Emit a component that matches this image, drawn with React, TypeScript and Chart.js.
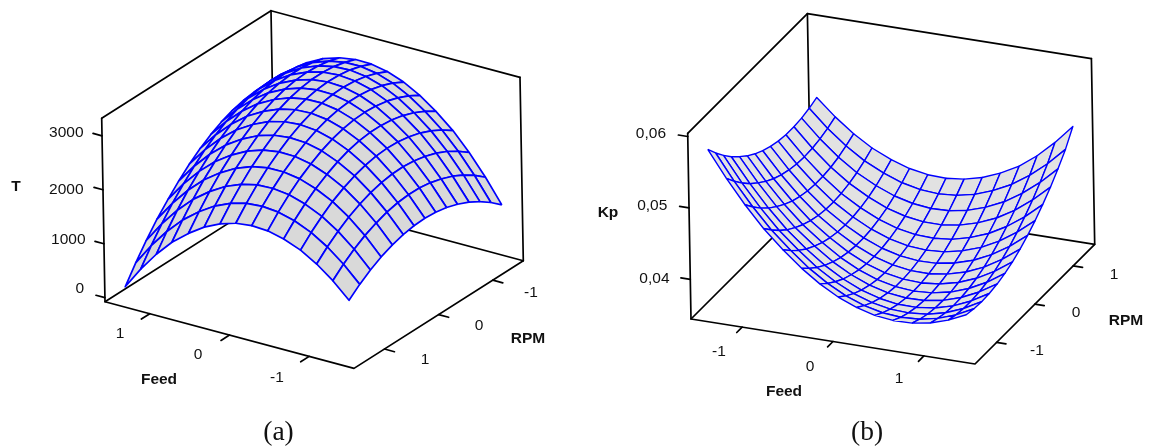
import React, { useEffect, useRef } from "react";
import Chart from "chart.js/auto";

// Feed / RPM grid (coded levels) shared by both surfaces
const gridLevels = [-1.41, -1.21, -1.01, -0.81, -0.6, -0.4, -0.2, 0, 0.2, 0.4, 0.6, 0.81, 1.01, 1.21, 1.41];
const feedTicks = [-1, 0, 1];
const rpmTicks = [-1, 0, 1];
const tempTicks = [0, 1000, 2000, 3000];
const kpTicks = [0.04, 0.05, 0.06];

// (a) T: one row per RPM level, one value per Feed level
const tempRows = [
  [1000, 1432, 1812, 2138, 2411, 2630, 2797, 2910, 2970, 2977, 2931, 2831, 2679, 2473, 2214],
  [1170, 1593, 1961, 2277, 2539, 2748, 2904, 3006, 3056, 3052, 2995, 2885, 2722, 2506, 2236],
  [1315, 1726, 2085, 2389, 2641, 2839, 2985, 3077, 3116, 3101, 3034, 2913, 2740, 2512, 2232],
  [1434, 1834, 2182, 2476, 2717, 2905, 3040, 3121, 3149, 3125, 3047, 2915, 2730, 2493, 2202],
  [1527, 1917, 2254, 2537, 2768, 2945, 3069, 3140, 3157, 3123, 3034, 2891, 2696, 2449, 2147],
  [1594, 1973, 2299, 2572, 2792, 2959, 3072, 3132, 3139, 3093, 2994, 2842, 2635, 2377, 2065],
  [1635, 2004, 2319, 2581, 2791, 2947, 3049, 3099, 3095, 3039, 2929, 2766, 2549, 2280, 1957],
  [1650, 2008, 2313, 2565, 2764, 2909, 3001, 3040, 3025, 2959, 2838, 2664, 2437, 2158, 1824],
  [1639, 1987, 2281, 2522, 2711, 2845, 2926, 2955, 2930, 2853, 2721, 2536, 2299, 2009, 1665],
  [1603, 1940, 2223, 2453, 2631, 2756, 2826, 2844, 2808, 2720, 2579, 2383, 2135, 1834, 1479],
  [1540, 1866, 2139, 2359, 2526, 2640, 2699, 2707, 2661, 2562, 2410, 2203, 1945, 1634, 1268],
  [1451, 1767, 2029, 2239, 2395, 2498, 2547, 2544, 2487, 2378, 2215, 1998, 1729, 1407, 1031],
  [1336, 1642, 1893, 2092, 2238, 2330, 2369, 2355, 2287, 2168, 1994, 1767, 1487, 1154, 768],
  [1197, 1491, 1732, 1920, 2056, 2137, 2165, 2141, 2063, 1933, 1748, 1510, 1220, 877, 479],
  [1030, 1314, 1544, 1722, 1847, 1918, 1935, 1900, 1811, 1670, 1475, 1228, 926, 572, 164],
];

// (b) Kp x 100000: one row per RPM level, one value per Feed level
const kpRows = [
  [5770, 5404, 5074, 4782, 4527, 4310, 4130, 3986, 3880, 3810, 3779, 3784, 3826, 3906, 4022],
  [5611, 5255, 4935, 4653, 4408, 4199, 4029, 3895, 3799, 3739, 3716, 3731, 3783, 3873, 3999],
  [5470, 5123, 4813, 4540, 4304, 4105, 3945, 3820, 3733, 3683, 3670, 3694, 3755, 3855, 3990],
  [5344, 5007, 4706, 4442, 4216, 4027, 3876, 3761, 3684, 3643, 3640, 3674, 3744, 3853, 3998],
  [5233, 4906, 4614, 4360, 4144, 3964, 3823, 3717, 3649, 3618, 3624, 3668, 3748, 3866, 4021],
  [5137, 4819, 4537, 4293, 4086, 3916, 3784, 3688, 3630, 3608, 3624, 3677, 3767, 3895, 4059],
  [5058, 4749, 4477, 4243, 4045, 3885, 3762, 3676, 3628, 3615, 3641, 3703, 3803, 3941, 4114],
  [4994, 4695, 4433, 4208, 4020, 3869, 3756, 3679, 3640, 3637, 3672, 3744, 3853, 4001, 4184],
  [4947, 4658, 4404, 4189, 4010, 3869, 3765, 3698, 3669, 3675, 3720, 3801, 3920, 4076, 4269],
  [4914, 4634, 4390, 4184, 4015, 3884, 3790, 3732, 3712, 3728, 3783, 3874, 4002, 4168, 4370],
  [4896, 4626, 4391, 4195, 4036, 3914, 3829, 3781, 3771, 3796, 3860, 3961, 4099, 4274, 4486],
  [4895, 4634, 4409, 4223, 4073, 3960, 3886, 3847, 3846, 3882, 3955, 4065, 4213, 4398, 4619],
  [4909, 4658, 4442, 4265, 4125, 4022, 3957, 3928, 3937, 3982, 4065, 4185, 4342, 4536, 4767],
  [4939, 4697, 4492, 4324, 4194, 4100, 4044, 4025, 4044, 4098, 4191, 4320, 4487, 4691, 4932],
  [4984, 4752, 4555, 4397, 4276, 4192, 4146, 4136, 4164, 4228, 4330, 4469, 4655, 4882, 5146],
];

type Pt = { x: number; y: number };

interface Panel {
  origin: Pt; // floor corner where the Feed axis starts
  feedVec: Pt; // along the Feed axis
  rpmVec: Pt; // along the RPM axis
  upVec: Pt; // along the vertical axis
  feedStart: number;
  feedEnd: number;
  rpmStart: number;
  rpmEnd: number;
  zMin: number;
  zMax: number;
  feedTickLen: number;
  rpmTickLen: number;
  zTickLen: number;
}

const panelA: Panel = {
  origin: { x: 105, y: 301.7 },
  feedVec: { x: 249, y: 66.7 },
  rpmVec: { x: 169.3, y: -107.6 },
  upVec: { x: -3.3, y: -183.4 },
  feedStart: 1.5625,
  feedEnd: -1.5625,
  rpmStart: 1.5625,
  rpmEnd: -1.5625,
  zMin: -75,
  zMax: 3325,
  feedTickLen: 0.05,
  rpmTickLen: 0.04,
  zTickLen: 0.036,
};

const panelB: Panel = {
  origin: { x: 691, y: 319 },
  feedVec: { x: 284, y: 45 },
  rpmVec: { x: 119.7, y: -119.7 },
  upVec: { x: -3.3, y: -185.7 },
  feedStart: -1.5625,
  feedEnd: 1.5625,
  rpmStart: -1.5625,
  rpmEnd: 1.5625,
  zMin: 0.03445,
  zMax: 0.06045,
  feedTickLen: 0.045,
  rpmTickLen: 0.033,
  zTickLen: 0.033,
};

const unitProject = (p: Panel, f: number, r: number, z: number): Pt => ({
  x: p.origin.x + f * p.feedVec.x + r * p.rpmVec.x + z * p.upVec.x,
  y: p.origin.y + f * p.feedVec.y + r * p.rpmVec.y + z * p.upVec.y,
});

const feedUnit = (p: Panel, v: number) => (v - p.feedStart) / (p.feedEnd - p.feedStart);
const rpmUnit = (p: Panel, v: number) => (v - p.rpmStart) / (p.rpmEnd - p.rpmStart);
const zUnit = (p: Panel, v: number) => (v - p.zMin) / (p.zMax - p.zMin);

const project = (p: Panel, feed: number, rpm: number, z: number) =>
  unitProject(p, feedUnit(p, feed), rpmUnit(p, rpm), zUnit(p, z));

const BLUE = "#0000ff";

function lineDs(data: Pt[], color = "#000000", width = 1.4) {
  return {
    data,
    showLine: true,
    fill: false,
    borderColor: color,
    borderWidth: width,
    pointRadius: 0,
    tension: 0,
    borderCapStyle: "round",
    borderJoinStyle: "round",
  };
}

function quadDs(data: Pt[], fillColor: string, width: number) {
  return {
    data,
    showLine: true,
    fill: "shape",
    backgroundColor: fillColor,
    borderColor: BLUE,
    borderWidth: width,
    pointRadius: 0,
    tension: 0,
    borderJoinStyle: "round",
  };
}

function surfaceDatasets(p: Panel, rows: number[][], scale: number, fillColor: string, width: number, feedFrontLow: boolean, rpmFrontHigh: boolean) {
  const out: any[] = [];
  const n = gridLevels.length - 1;
  const js = Array.from({ length: n }, (_, i) => (rpmFrontHigh ? n - 1 - i : i));
  const ks = Array.from({ length: n }, (_, i) => (feedFrontLow ? i : n - 1 - i));
  for (const j of js) {
    for (const k of ks) {
      const corner = (jj: number, kk: number) => project(p, gridLevels[kk], gridLevels[jj], rows[jj][kk] * scale);
      const a = corner(j, k);
      out.push(quadDs([a, corner(j, k + 1), corner(j + 1, k + 1), corner(j + 1, k), a], fillColor, width));
    }
  }
  return out;
}

function boxDatasets(p: Panel, zTicks: number[], width: number) {
  const c = (f: number, r: number, z: number) => unitProject(p, f, r, z);
  const out: any[] = [
    lineDs([c(0, 0, 1), c(0, 0, 0), c(1, 0, 0), c(1, 1, 0), c(1, 1, 1)], "#000", width),
    lineDs([c(0, 0, 1), c(0, 1, 1), c(1, 1, 1)], "#000", width),
    lineDs([c(0, 0, 0), c(0, 1, 0), c(1, 1, 0)], "#000", width),
    lineDs([c(0, 1, 0), c(0, 1, 1)], "#000", width),
  ];
  for (const v of feedTicks) {
    const f = feedUnit(p, v);
    out.push(lineDs([c(f, 0, 0), c(f, -p.feedTickLen, 0)], "#000", width));
  }
  for (const v of rpmTicks) {
    const r = rpmUnit(p, v);
    out.push(lineDs([c(1, r, 0), c(1 + p.rpmTickLen, r, 0)], "#000", width));
  }
  for (const v of zTicks) {
    const z = zUnit(p, v);
    out.push(lineDs([c(0, 0, z), c(-p.zTickLen, 0, z)], "#000", width));
  }
  return out;
}

const SANS = '"Liberation Sans", Arial, sans-serif';
const tickFont = `15.5px ${SANS}`;
const titleFont = `bold 15.5px ${SANS}`;
const captionFont = `27.5px "Liberation Serif", "Times New Roman", serif`;

const labels: { t: string; x: number; y: number; font: string; align?: CanvasTextAlign }[] = [
  { t: "3000", x: 83.5, y: 133, font: tickFont, align: "right" },
  { t: "2000", x: 83.5, y: 190, font: tickFont, align: "right" },
  { t: "1000", x: 85.5, y: 240, font: tickFont, align: "right" },
  { t: "0", x: 84, y: 289, font: tickFont, align: "right" },
  { t: "T", x: 16, y: 186.5, font: titleFont },
  { t: "1", x: 120, y: 334, font: tickFont },
  { t: "0", x: 198, y: 355, font: tickFont },
  { t: "-1", x: 277, y: 378, font: tickFont },
  { t: "Feed", x: 159, y: 380, font: titleFont },
  { t: "-1", x: 531, y: 293, font: tickFont },
  { t: "0", x: 479, y: 326, font: tickFont },
  { t: "1", x: 425, y: 360, font: tickFont },
  { t: "RPM", x: 528, y: 339, font: titleFont },
  { t: "(a)", x: 278.5, y: 433, font: captionFont },
  { t: "0,06", x: 666, y: 134, font: tickFont, align: "right" },
  { t: "0,05", x: 667.3, y: 206, font: tickFont, align: "right" },
  { t: "0,04", x: 669.5, y: 279, font: tickFont, align: "right" },
  { t: "Kp", x: 608, y: 213, font: titleFont },
  { t: "-1", x: 719, y: 352, font: tickFont },
  { t: "0", x: 810, y: 367, font: tickFont },
  { t: "1", x: 899, y: 379, font: tickFont },
  { t: "Feed", x: 784, y: 392, font: titleFont },
  { t: "1", x: 1114, y: 275, font: tickFont },
  { t: "0", x: 1076, y: 313, font: tickFont },
  { t: "-1", x: 1037, y: 351, font: tickFont },
  { t: "RPM", x: 1126, y: 321, font: titleFont },
  { t: "(b)", x: 867, y: 433, font: captionFont },
];

const labelPlugin = {
  id: "labels",
  afterDraw(chart: any) {
    const { ctx, scales } = chart;
    ctx.save();
    ctx.fillStyle = "#111";
    ctx.textBaseline = "middle";
    for (const l of labels) {
      ctx.font = l.font;
      ctx.textAlign = l.align ?? "center";
      ctx.fillText(l.t, scales.x.getPixelForValue(l.x), scales.y.getPixelForValue(l.y));
    }
    ctx.restore();
  },
};

export default function App() {
  const ref = useRef<HTMLCanvasElement>(null);
  useEffect(() => {
    if (!ref.current) return;
    const datasets = [
      ...surfaceDatasets(panelA, tempRows, 1, "#d9d9d9", 1.7, true, true),
      ...boxDatasets(panelA, tempTicks, 1.7),
      ...surfaceDatasets(panelB, kpRows, 1e-5, "#e2e2e2", 1.4, false, false),
      ...boxDatasets(panelB, kpTicks, 1.7),
    ];
    const chart = new Chart(ref.current, {
      type: "scatter",
      data: { datasets },
      options: {
        animation: false,
        responsive: false,
        layout: { padding: 0 },
        events: [],
        scales: {
          x: { type: "linear", display: false, min: 0, max: 1149 },
          y: { type: "linear", display: false, min: 0, max: 448, reverse: true },
        },
        plugins: { legend: { display: false }, tooltip: { enabled: false } },
      },
      plugins: [labelPlugin],
    } as any);
    return () => chart.destroy();
  }, []);
  return (
    <div style={{ position: "absolute", left: 0, top: 0, width: 1149, height: 448, background: "#fff" }}>
      <canvas ref={ref} width={1149} height={448} style={{ display: "block" }} />
    </div>
  );
}
